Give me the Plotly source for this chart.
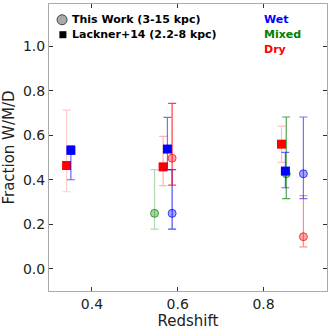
import plotly.graph_objects as go

# ---- data ----
# This Work (circles)
tw_z_mixed = [0.546, 0.853]
tw_mixed = [0.249, 0.427]
tw_mixed_hi = [0.446, 0.682]
tw_mixed_lo = [0.178, 0.315]

tw_z_wet = [0.587, 0.893]
tw_wet = [0.249, 0.427]
tw_wet_hi = [0.446, 0.682]
tw_wet_lo = [0.178, 0.315]

tw_z_dry = [0.587, 0.893]
tw_dry = [0.497, 0.144]
tw_dry_hi = [0.743, 0.329]
tw_dry_lo = [0.376, 0.098]

# Lackner+14 (squares)
lk_z_wet = [0.351, 0.576, 0.851]
lk_wet = [0.532, 0.538, 0.439]
lk_wet_hi = [0.553, 0.680, 0.523]
lk_wet_lo = [0.400, 0.446, 0.364]

lk_z_dry = [0.341, 0.566, 0.842]
lk_dry = [0.464, 0.458, 0.560]
lk_dry_hi = [0.713, 0.595, 0.641]
lk_dry_lo = [0.346, 0.374, 0.478]

x_ticks = [0.4, 0.6, 0.8]
y_ticks = [0.0, 0.2, 0.4, 0.6, 0.8, 1.0]

RGB = {"wet": (0, 0, 255), "mixed": (0, 128, 0), "dry": (255, 0, 0)}

def rgba(c, a):
    r, g, b = RGB[c]
    return f"rgba({r},{g},{b},{a})"

fig = go.Figure()

def add_points(zs, vals, his, los, cls, symbol, err_alphas, fill_a, line_a):
    for i, (z, v, h, l) in enumerate(zip(zs, vals, his, los)):
        fig.add_trace(go.Scatter(
            x=[z], y=[v], mode="markers", showlegend=False,
            marker=dict(symbol=symbol, size=8 if symbol == "circle" else 9,
                        color=rgba(cls, fill_a),
                        line=dict(color=rgba(cls, line_a), width=1 if symbol == "circle" else 0)),
            error_y=dict(type="data", symmetric=False, array=[h - v], arrayminus=[v - l],
                         color=rgba(cls, err_alphas[i]), thickness=1.2, width=4),
        ))

add_points(tw_z_mixed, tw_mixed, tw_mixed_hi, tw_mixed_lo, "mixed", "circle", [0.3, 0.7], 0.35, 0.7)
add_points(tw_z_wet, tw_wet, tw_wet_hi, tw_wet_lo, "wet", "circle", [0.7, 0.55], 0.35, 0.7)
add_points(tw_z_dry, tw_dry, tw_dry_hi, tw_dry_lo, "dry", "circle", [0.75, 0.45], 0.35, 0.7)
add_points(lk_z_dry, lk_dry, lk_dry_hi, lk_dry_lo, "dry", "square", [0.2, 0.3, 0.25], 1, 1)
add_points(lk_z_wet, lk_wet, lk_wet_hi, lk_wet_lo, "wet", "square", [0.6, 0.55, 0.6], 1, 1)

# legend markers drawn as real markers in paper coordinates
fig.add_trace(go.Scatter(x=[0.047], y=[0.945], xaxis="x2", yaxis="y2", mode="markers",
                         showlegend=False, hoverinfo="skip",
                         marker=dict(symbol="circle", size=10, color="#aaaaaa",
                                     line=dict(color="#444444", width=1))))
fig.add_trace(go.Scatter(x=[0.05], y=[0.893], xaxis="x2", yaxis="y2", mode="markers",
                         showlegend=False, hoverinfo="skip",
                         marker=dict(symbol="square", size=7, color="black")))

font = "DejaVu Sans"
ann = [
    dict(x=0.075, y=0.945, text="<b>This Work (3-15 kpc)</b>", font=dict(size=11, color="black")),
    dict(x=0.075, y=0.893, text="<b>Lackner+14 (2.2-8 kpc)</b>", font=dict(size=11, color="black")),
    dict(x=0.765, y=0.945, text="<b>Wet</b>", font=dict(size=11, color="rgb(0,0,255)")),
    dict(x=0.765, y=0.893, text="<b>Mixed</b>", font=dict(size=11, color="rgb(0,128,0)")),
    dict(x=0.765, y=0.841, text="<b>Dry</b>", font=dict(size=11, color="rgb(255,0,0)")),
]
for a in ann:
    a.update(xref="paper", yref="paper", showarrow=False, xanchor="left", yanchor="middle")
    a["font"]["family"] = font

axis_common = dict(showgrid=False, zeroline=False, showline=True, linecolor="#aaaaaa",
                   linewidth=1, mirror="ticks", ticks="inside", ticklen=4, tickcolor="#333333",
                   tickfont=dict(size=14, family=font, color="#222222"))

fig.update_layout(
    width=331, height=331,
    margin=dict(l=49, r=4, t=4, b=40),
    plot_bgcolor="white", paper_bgcolor="white",
    annotations=ann,
    xaxis=dict(range=[0.3, 0.948], tickvals=x_ticks, ticktext=[f"{t:.1f}" for t in x_ticks],
               title=dict(text="Redshift", font=dict(size=15, family=font, color="#222222"), standoff=2),
               **axis_common),
    yaxis=dict(range=[-0.1, 1.19], tickvals=y_ticks, ticktext=[f"{t:.1f}" for t in y_ticks],
               title=dict(text="Fraction W/M/D", font=dict(size=15, family=font, color="#222222"), standoff=4),
               **axis_common),
    xaxis2=dict(domain=[0, 1], range=[0, 1], overlaying="x", visible=False, fixedrange=True),
    yaxis2=dict(domain=[0, 1], range=[0, 1], overlaying="y", visible=False, fixedrange=True),
)

fig.write_html("out.html", config={"displayModeBar": False},
               post_script="document.body.style.margin='0';")
